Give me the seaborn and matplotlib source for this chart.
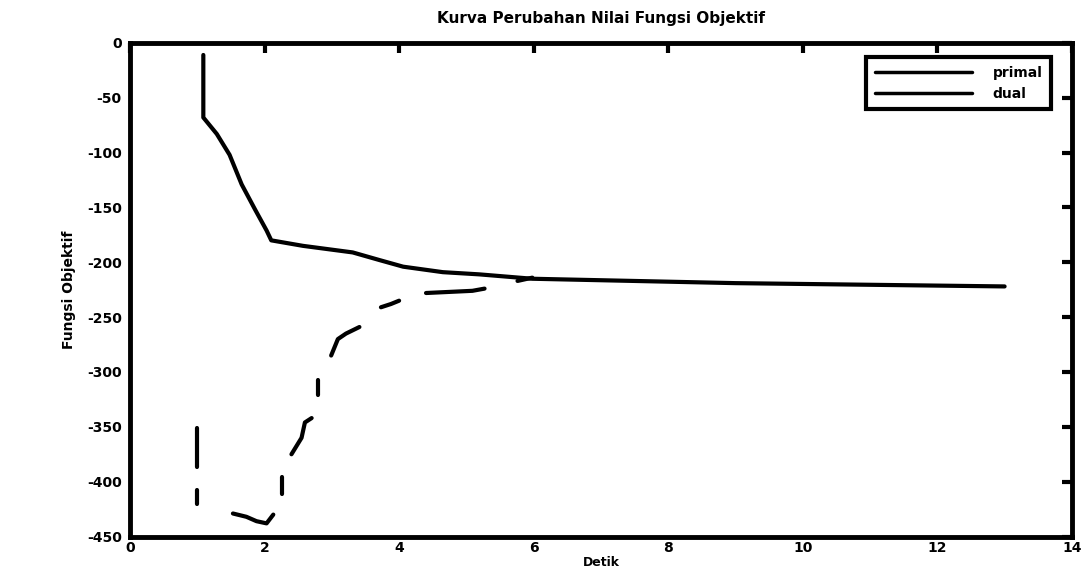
import numpy as np
import pandas as pd
import matplotlib
matplotlib.use("Agg")
import matplotlib.pyplot as plt
import seaborn as sns

# ---- data ----
title = "Kurva Perubahan Nilai Fungsi Objektif"
x_label = "Detik"
y_label = "Fungsi Objektif"
series_names = ["primal", "dual"]

primal_x = [1.09, 1.09, 1.29, 1.48, 1.66, 1.86, 2.03, 2.10, 2.57, 3.31, 3.71, 4.06, 4.65, 5.19, 5.98, 9.0, 13.0]
primal_y = [-11, -68, -83, -102, -129, -152, -171, -180, -185, -191, -198, -204, -209, -211, -215, -219, -222]

# dual line, printed in broken pieces (segment id per piece)
dual_seg = [0, 0, 1, 1, 2, 2, 2, 2, 2, 3, 3, 4, 4, 4, 4, 5, 5, 6, 6, 6, 6, 7, 7, 7, 8, 8, 8, 9, 9]
dual_x = [0.99, 0.99, 0.99, 0.99, 1.53, 1.73, 1.88, 2.03, 2.13, 2.26, 2.26,
          2.40, 2.55, 2.60, 2.70, 2.79, 2.79, 2.99, 3.09, 3.21, 3.41,
          3.73, 3.88, 4.00, 4.40, 5.09, 5.27, 5.76, 5.98]
dual_y = [-351, -387, -408, -420, -429, -432, -436, -438, -430, -396, -411,
          -375, -360, -346, -342, -321, -307, -285, -270, -265, -259,
          -241, -238, -235, -228, -226, -224, -217, -214]

x_ticks = [0, 2, 4, 6, 8, 10, 12, 14]
y_ticks = [0, -50, -100, -150, -200, -250, -300, -350, -400, -450]

# ---- build table ----
df_p = pd.DataFrame({"x": primal_x, "y": primal_y, "series": series_names[0], "seg": "p0"})
df_d = pd.DataFrame({"x": dual_x, "y": dual_y, "series": series_names[1],
                     "seg": ["d%d" % s for s in dual_seg]})
df = pd.concat([df_p, df_d], ignore_index=True)

sns.set_style("white")
plt.rcParams["font.family"] = ["DejaVu Sans"]
plt.rcParams["font.weight"] = "bold"
plt.rcParams["text.color"] = "black"
plt.rcParams["axes.labelcolor"] = "black"
plt.rcParams["xtick.color"] = "black"
plt.rcParams["ytick.color"] = "black"

fig = plt.figure(figsize=(10.86, 5.72), dpi=100)
ax = fig.add_axes([0.1197, 0.062, 0.8673, 0.863])

sns.lineplot(data=df, x="x", y="y", hue="series", units="seg", estimator=None,
             sort=False, palette={"primal": "black", "dual": "black"},
             linewidth=3, ax=ax)

ax.set_xlim(0, 14)
ax.set_ylim(-450, 0)
ax.set_xticks(x_ticks)
ax.set_yticks(y_ticks)
ax.set_xticklabels([str(t) for t in x_ticks], fontsize=10, fontweight="bold")
ax.set_yticklabels([str(t) for t in y_ticks], fontsize=10, fontweight="bold")
ax.tick_params(axis="x", direction="in", length=7, width=3, top=True, pad=3)
ax.tick_params(axis="y", direction="in", length=7, width=3, right=True, pad=6)
for s in ax.spines.values():
    s.set_linewidth(3.5)
    s.set_color("black")
    s.set_visible(True)

ax.set_title(title, fontsize=11, fontweight="bold", pad=14)
ax.set_xlabel(x_label, fontsize=9, fontweight="bold", labelpad=1)
ax.set_ylabel(y_label, fontsize=10, fontweight="bold", labelpad=8)

leg = ax.legend(loc="upper right", fontsize=10, handlelength=7, frameon=True,
                fancybox=False, framealpha=1, borderpad=0.6, labelspacing=0.5,
                handletextpad=1.5, bbox_to_anchor=(0.985, 0.985))
leg.get_frame().set_edgecolor("black")
leg.get_frame().set_linewidth(3)
for t in leg.get_texts():
    t.set_fontweight("bold")
for l in leg.get_lines():
    l.set_linewidth(2.5)

fig.savefig("out.png", dpi=100, facecolor="white")
